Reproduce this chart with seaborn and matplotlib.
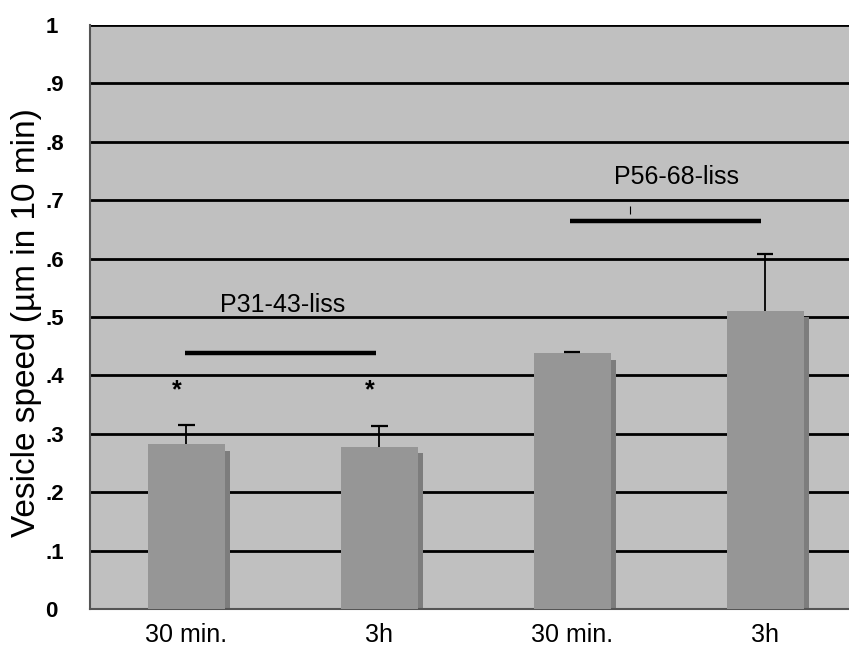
import matplotlib
matplotlib.use("Agg")
import matplotlib.pyplot as plt
from matplotlib.patches import Rectangle
import seaborn as sns
import pandas as pd

# =========================
# Data
# =========================
positions = ["P31 30 min", "P31 3h", "P56 30 min", "P56 3h"]
tick_labels = ["30 min.", "3h", "30 min.", "3h"]
speed = [0.282, 0.278, 0.438, 0.511]
speed_err = [0.034, 0.035, 0.002, 0.097]
star_bars = [0, 1]
star_level = 0.375
groups = ["P31-43-liss", "P56-68-liss"]
group_span = [(0, 1), (2, 3)]
group_line = [0.438, 0.664]
group_text = [0.52, 0.74]

df = pd.DataFrame({"pos": positions, "speed": speed})

sns.set_style("white")
plt.rcParams["font.family"] = ["Liberation Sans", "DejaVu Sans"]
plt.rcParams["text.color"] = "black"
plt.rcParams["xtick.color"] = "black"
plt.rcParams["ytick.color"] = "black"
plt.rcParams["axes.labelcolor"] = "black"

fig = plt.figure(figsize=(8.49, 6.53), dpi=100)
# plot runs a bit past the right edge of the picture
ax = fig.add_axes([0.106, 0.067, 0.909, 0.895])
ax.set_facecolor("#c0c0c0")

sns.barplot(data=df, x="pos", y="speed", color="#969696", saturation=1,
            width=0.40, ax=ax, zorder=3, errorbar=None, linewidth=0)

# bar shadows (right side, slightly lower)
for p in list(ax.patches):
    ax.add_patch(Rectangle((p.get_x() + p.get_width(), 0), 0.026,
                           p.get_height() - 0.011, facecolor="#7d7d7d",
                           edgecolor="none", zorder=2.5))

# upper error bars only
for i, (v, e) in enumerate(zip(speed, speed_err)):
    ax.vlines(i, v, v + e, color="black", lw=1.3, zorder=4)
    ax.hlines(v + e, i - 0.042, i + 0.042, color="black", lw=1.6, zorder=4)

for i in star_bars:
    ax.text(i - 0.05, star_level, "*", ha="center", va="center",
            fontsize=18, fontweight="bold", zorder=5)

text_shift = [0.0, 0.04]
for name, (a, b), ly, ty, dx in zip(groups, group_span, group_line,
                                    group_text, text_shift):
    ax.hlines(ly, a - 0.01, b - 0.02, color="black", lw=3.2, zorder=5)
    ax.text((a + b) / 2 + dx, ty, name, ha="center", va="center",
            fontsize=18, zorder=5)
ax.vlines(2.30, 0.677, 0.69, color="black", lw=0.8, zorder=5)

ax.set_ylim(0, 1)
ax.set_xlim(-0.5, 3.5)
ax.set_yticks([i / 10 for i in range(11)])
ax.set_yticklabels(["0"] + ["." + str(i) for i in range(1, 10)] + ["1"])
ax.yaxis.grid(True, color="black", lw=2)
ax.set_axisbelow(True)
ax.tick_params(axis="y", length=0, pad=32, labelsize=16)
for t in ax.get_yticklabels():
    t.set_horizontalalignment("left")
    t.set_fontweight("bold")

ax.set_xticks(range(4))
ax.set_xticklabels(tick_labels)
ax.set_xticks([0.5, 1.5, 2.5], minor=True)
ax.tick_params(axis="x", which="major", length=0, pad=10, labelsize=18)
ax.tick_params(axis="x", which="minor", length=5, color="#777777", width=1)

ax.set_xlabel("")
ax.set_ylabel("Vesicle speed (µm in 10 min)", fontsize=24)
ax.yaxis.set_label_coords(-0.062, 0.49)

for s in ["top", "right"]:
    ax.spines[s].set_visible(False)
ax.spines["left"].set_color("#555555")
ax.spines["bottom"].set_color("#555555")
ax.spines["left"].set_linewidth(1.5)
ax.spines["bottom"].set_linewidth(1.5)

fig.savefig("out.png", dpi=100)
